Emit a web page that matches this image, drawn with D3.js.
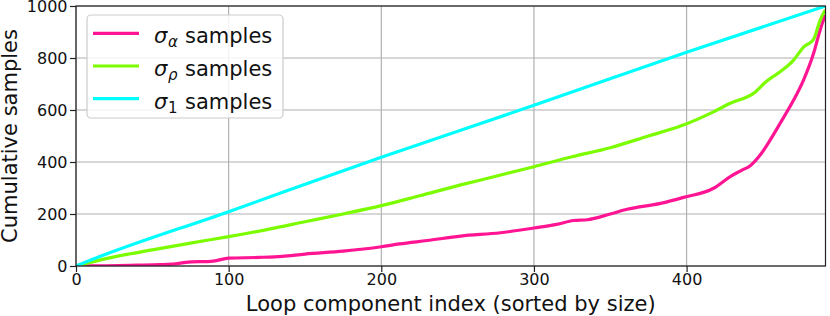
<!DOCTYPE html>
<html>
<head>
<meta charset="utf-8">
<script src="https://cdn.jsdelivr.net/npm/d3@7"></script>
<style>
  body { margin: 0; background: #fff; }
  svg { display: block; font-family: "DejaVu Sans", sans-serif; }
</style>
</head>
<body>
<svg width="830" height="316"></svg>
<script>
// data
const alphaX = [0, 20, 40, 55, 65, 72, 90, 100, 120, 135, 150, 175, 200, 212, 230, 252, 278, 300, 315, 326, 335, 350, 361, 383, 398, 418, 428.6, 436, 441.7, 448.2, 454.8, 461.3, 470.1, 476.6, 483.2, 487.5, 490.8];
const alphaY = [0, 1, 3, 5, 8, 14, 19, 30, 33, 37, 46, 57, 74, 85, 98, 115, 128, 146, 160, 175, 178, 200, 218, 241, 264, 300, 344, 368, 386, 427, 485, 549, 638, 715, 818, 908, 965];

const rhoX = [0, 10, 25, 50, 75, 100, 125, 150, 175, 200, 225, 252, 275, 300, 325, 350, 375, 396, 417.6, 428.6, 443.8, 452.6, 461.3, 470.1, 476.6, 483.2, 487.5, 490.8];
const rhoY = [0, 15, 35, 62, 88, 113, 140, 170, 200, 232, 270, 312, 345, 382, 420, 455, 500, 538, 593, 626, 664, 712, 747, 792, 842, 872, 946, 985];

const oneX = [0, 5, 100, 200, 300, 400, 491];
const oneY = [0, 12, 209, 418, 618, 822, 1000];

const xTicks = [0, 100, 200, 300, 400];
const yTicks = [0, 200, 400, 600, 800, 1000];

const series = [
  { name: 'α', color: '#ff1493', xs: alphaX, ys: alphaY },
  { name: 'ρ', color: '#7cfc00', xs: rhoX, ys: rhoY },
  { name: '1', color: '#00ffff', xs: oneX, ys: oneY }
];

const width = 830;
const height = 316;
const padding = { top: 6, right: 4.5, bottom: 50, left: 76 };

const svg = d3.select('svg');

const xScale = d3.scaleLinear()
  .domain([0, 491])
  .range([padding.left, width - padding.right]);
const yScale = d3.scaleLinear()
  .domain([0, 1000])
  .range([height - padding.bottom, padding.top]);

// grid
svg.append('g')
  .selectAll('line')
  .data(xTicks)
  .join('line')
  .attr('x1', d => xScale(d)).attr('x2', d => xScale(d))
  .attr('y1', padding.top).attr('y2', height - padding.bottom)
  .attr('stroke', '#b0b0b0').attr('stroke-width', 1.2);
svg.append('g')
  .selectAll('line')
  .data(yTicks)
  .join('line')
  .attr('x1', padding.left).attr('x2', width - padding.right)
  .attr('y1', d => yScale(d)).attr('y2', d => yScale(d))
  .attr('stroke', '#b0b0b0').attr('stroke-width', 1.2);

// lines
svg.append('clipPath').attr('id', 'plot')
  .append('rect')
  .attr('x', padding.left).attr('y', padding.top)
  .attr('width', width - padding.left - padding.right)
  .attr('height', height - padding.top - padding.bottom);

const line = d3.line()
  .x(d => xScale(d[0]))
  .y(d => yScale(d[1]))
  .curve(d3.curveMonotoneX);

svg.append('g')
  .attr('clip-path', 'url(#plot)')
  .selectAll('path')
  .data(series)
  .join('path')
  .attr('d', s => line(s.xs.map((x, i) => [x, s.ys[i]])))
  .attr('fill', 'none')
  .attr('stroke', s => s.color)
  .attr('stroke-width', 3.2)
  .attr('stroke-linejoin', 'round');

// axes
const xAxis = d3.axisBottom(xScale).tickValues(xTicks).tickFormat(d3.format('d')).tickSize(6).tickPadding(2);
const yAxis = d3.axisLeft(yScale).tickValues(yTicks).tickFormat(d3.format('d')).tickSize(6).tickPadding(2.5);

const gx = svg.append('g')
  .attr('transform', `translate(0, ${height - padding.bottom})`)
  .call(xAxis);
const gy = svg.append('g')
  .attr('transform', `translate(${padding.left}, 0)`)
  .call(yAxis);
[gx, gy].forEach(g => {
  g.select('.domain').remove();
  g.selectAll('.tick line').attr('stroke', '#222').attr('stroke-width', 1.2);
  g.selectAll('.tick text')
    .style('font-size', '16px')
    .style('font-family', '"DejaVu Sans", sans-serif')
    .attr('fill', '#111');
});

// spines
svg.append('rect')
  .attr('x', padding.left).attr('y', padding.top)
  .attr('width', width - padding.left - padding.right)
  .attr('height', height - padding.top - padding.bottom)
  .attr('fill', 'none')
  .attr('stroke', '#222')
  .attr('stroke-width', 1.2);

// labels
svg.append('text')
  .text('Loop component index (sorted by size)')
  .attr('x', (padding.left + width - padding.right) / 2)
  .attr('y', 311)
  .style('text-anchor', 'middle')
  .style('font-size', '21px')
  .attr('fill', '#111');
svg.append('text')
  .text('Cumulative samples')
  .attr('x', -(padding.top + height - padding.bottom) / 2)
  .attr('y', 17)
  .attr('transform', 'rotate(-90)')
  .style('text-anchor', 'middle')
  .style('font-size', '21px')
  .attr('fill', '#111');

// legend
const legend = svg.append('g');
legend.append('rect')
  .attr('x', 87).attr('y', 15)
  .attr('width', 196).attr('height', 103)
  .attr('rx', 4)
  .attr('fill', 'white').attr('fill-opacity', 0.85)
  .attr('stroke', '#cccccc').attr('stroke-width', 1.2);

const items = legend.selectAll('g.item')
  .data(series)
  .join('g')
  .attr('class', 'item')
  .attr('transform', (d, i) => `translate(0, ${33.3 + i * 32.7})`);
items.append('line')
  .attr('x1', 93).attr('x2', 139)
  .attr('y1', 0).attr('y2', 0)
  .attr('stroke', d => d.color)
  .attr('stroke-width', 3.2);
const label = items.append('text')
  .attr('y', 10)
  .style('font-size', '21px')
  .attr('fill', '#111');
label.append('tspan').text('σ').attr('x', 154).style('font-style', 'italic');
label.append('tspan')
  .text(d => d.name)
  .attr('x', 168)
  .attr('y', 14)
  .style('font-size', '15px')
  .style('font-style', d => d.name === '1' ? 'normal' : 'italic');
label.append('tspan').text('samples').attr('x', 185).attr('y', 10);
</script>
</body>
</html>
